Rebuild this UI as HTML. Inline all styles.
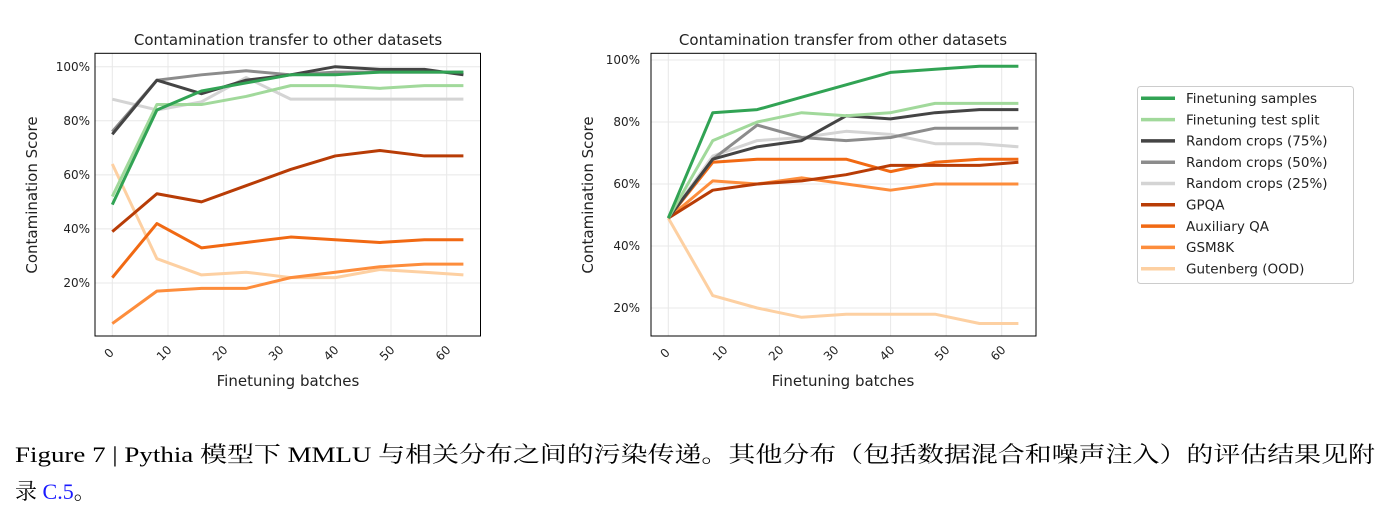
<!DOCTYPE html>
<html><head><meta charset="utf-8"><style>
body{margin:0;background:#fff;}
svg{display:block;font-family:"DejaVu Sans","Liberation Sans",sans-serif;}
.g{stroke:#e8e8e8;stroke-width:1;}
.s{fill:none;stroke-width:3;vector-effect:non-scaling-stroke;stroke-linejoin:round;}
.t{font-size:12px;fill:#222;}
</style></head><body>
<svg width="1390" height="520" viewBox="0 0 1390 520">
<!-- LEFT -->
<g>
<g class="g">
<line x1="112.3" y1="53" x2="112.3" y2="336"/><line x1="168" y1="53" x2="168" y2="336"/><line x1="223.8" y1="53" x2="223.8" y2="336"/><line x1="279.5" y1="53" x2="279.5" y2="336"/><line x1="335.2" y1="53" x2="335.2" y2="336"/><line x1="391" y1="53" x2="391" y2="336"/><line x1="446.7" y1="53" x2="446.7" y2="336"/>
<line x1="95" y1="66.7" x2="480" y2="66.7"/><line x1="95" y1="120.8" x2="480" y2="120.8"/><line x1="95" y1="174.9" x2="480" y2="174.9"/><line x1="95" y1="228.9" x2="480" y2="228.9"/><line x1="95" y1="283" x2="480" y2="283"/>
</g>
<g transform="matrix(5.573 0 0 -2.704 112.3 337.1)">
<polyline class="s" stroke="#fdd0a2" points="0,64 8,29 16,23 24,24 32,22 40,22 48,25 56,24 63,23"/>
<polyline class="s" stroke="#fd8d3c" points="0,5 8,17 16,18 24,18 32,22 40,24 48,26 56,27 63,27"/>
<polyline class="s" stroke="#f16913" points="0,22 8,42 16,33 24,35 32,37 40,36 48,35 56,36 63,36"/>
<polyline class="s" stroke="#b83c06" points="0,39 8,53 16,50 24,56 32,62 40,67 48,69 56,67 63,67"/>
<polyline class="s" stroke="#d4d4d4" points="0,88 8,84 16,87 24,96 32,88 40,88 48,88 56,88 63,88"/>
<polyline class="s" stroke="#8c8c8c" points="0,76 8,95 16,97 24,98.5 32,97 40,98 48,98 56,98 63,98"/>
<polyline class="s" stroke="#444" points="0,75 8,95 16,90 24,95 32,97 40,100 48,99 56,99 63,97"/>
<polyline class="s" stroke="#a1d99b" points="0,52 8,86 16,86 24,89 32,93 40,93 48,92 56,93 63,93"/>
<polyline class="s" stroke="#31a354" points="0,49 8,84 16,91 24,94 32,97 40,97 48,98 56,98 63,98"/>
</g>
<rect x="95" y="53.3" width="385.5" height="282.7" fill="none" stroke="#000" stroke-width="1"/>
<g class="t" text-anchor="end">
<text x="90" y="71">100%</text><text x="90" y="125">80%</text><text x="90" y="179">60%</text><text x="90" y="233">40%</text><text x="90" y="287">20%</text>
</g>
<g class="t" text-anchor="middle">
<text transform="translate(112,356) rotate(-45)">0</text><text transform="translate(167,356) rotate(-45)">10</text><text transform="translate(223,356) rotate(-45)">20</text><text transform="translate(279,356) rotate(-45)">30</text><text transform="translate(334,356) rotate(-45)">40</text><text transform="translate(390,356) rotate(-45)">50</text><text transform="translate(446,356) rotate(-45)">60</text>
</g>
<text x="288" y="45" font-size="15" text-anchor="middle" fill="#222">Contamination transfer to other datasets</text>
<text x="288" y="386" font-size="15" text-anchor="middle" fill="#222">Finetuning batches</text>
<text transform="translate(37,195) rotate(-90)" font-size="15" text-anchor="middle" fill="#222">Contamination Score</text>
</g>
<!-- RIGHT -->
<g>
<g class="g">
<line x1="668.3" y1="53" x2="668.3" y2="336"/><line x1="723.9" y1="53" x2="723.9" y2="336"/><line x1="779.4" y1="53" x2="779.4" y2="336"/><line x1="835" y1="53" x2="835" y2="336"/><line x1="890.6" y1="53" x2="890.6" y2="336"/><line x1="946.2" y1="53" x2="946.2" y2="336"/><line x1="1001.7" y1="53" x2="1001.7" y2="336"/>
<line x1="651" y1="60" x2="1036" y2="60"/><line x1="651" y1="122" x2="1036" y2="122"/><line x1="651" y1="184" x2="1036" y2="184"/><line x1="651" y1="246" x2="1036" y2="246"/><line x1="651" y1="308" x2="1036" y2="308"/>
</g>
<g transform="matrix(5.557 0 0 -3.1 668.3 370)">
<polyline class="s" stroke="#fdd0a2" points="0,49 8,24 16,20 24,17 32,18 40,18 48,18 56,15 63,15"/>
<polyline class="s" stroke="#fd8d3c" points="0,49 8,61 16,60 24,62 32,60 40,58 48,60 56,60 63,60"/>
<polyline class="s" stroke="#f16913" points="0,49 8,67 16,68 24,68 32,68 40,64 48,67 56,68 63,68"/>
<polyline class="s" stroke="#b83c06" points="0,49 8,58 16,60 24,61 32,63 40,66 48,66 56,66 63,67"/>
<polyline class="s" stroke="#d4d4d4" points="0,49 8,69 16,74 24,75 32,77 40,76 48,73 56,73 63,72"/>
<polyline class="s" stroke="#8c8c8c" points="0,49 8,68 16,79 24,75 32,74 40,75 48,78 56,78 63,78"/>
<polyline class="s" stroke="#444" points="0,49 8,68 16,72 24,74 32,82 40,81 48,83 56,84 63,84"/>
<polyline class="s" stroke="#a1d99b" points="0,49 8,74 16,80 24,83 32,82 40,83 48,86 56,86 63,86"/>
<polyline class="s" stroke="#31a354" points="0,49 8,83 16,84 24,88 32,92 40,96 48,97 56,98 63,98"/>
</g>
<rect x="651" y="53.3" width="385" height="282.7" fill="none" stroke="#000" stroke-width="1"/>
<g class="t" text-anchor="end">
<text x="640" y="64">100%</text><text x="640" y="126">80%</text><text x="640" y="188">60%</text><text x="640" y="250">40%</text><text x="640" y="312">20%</text>
</g>
<g class="t" text-anchor="middle">
<text transform="translate(668,356) rotate(-45)">0</text><text transform="translate(723,356) rotate(-45)">10</text><text transform="translate(779,356) rotate(-45)">20</text><text transform="translate(834,356) rotate(-45)">30</text><text transform="translate(890,356) rotate(-45)">40</text><text transform="translate(945,356) rotate(-45)">50</text><text transform="translate(1001,356) rotate(-45)">60</text>
</g>
<text x="843" y="45" font-size="15" text-anchor="middle" fill="#222">Contamination transfer from other datasets</text>
<text x="843" y="386" font-size="15" text-anchor="middle" fill="#222">Finetuning batches</text>
<text transform="translate(593,195) rotate(-90)" font-size="15" text-anchor="middle" fill="#222">Contamination Score</text>
</g>
<!-- LEGEND -->
<rect x="1137.5" y="86.5" width="216" height="197" rx="3" fill="#fff" stroke="#ccc"/>
<g stroke-width="3.5">
<line x1="1141" y1="98.3" x2="1175" y2="98.3" stroke="#31a354"/>
<line x1="1141" y1="119.6" x2="1175" y2="119.6" stroke="#a1d99b"/>
<line x1="1141" y1="140.9" x2="1175" y2="140.9" stroke="#444"/>
<line x1="1141" y1="162.2" x2="1175" y2="162.2" stroke="#8c8c8c"/>
<line x1="1141" y1="183.5" x2="1175" y2="183.5" stroke="#d4d4d4"/>
<line x1="1141" y1="204.8" x2="1175" y2="204.8" stroke="#b83c06"/>
<line x1="1141" y1="226.1" x2="1175" y2="226.1" stroke="#f16913"/>
<line x1="1141" y1="247.4" x2="1175" y2="247.4" stroke="#fd8d3c"/>
<line x1="1141" y1="268.7" x2="1175" y2="268.7" stroke="#fdd0a2"/>
</g>
<g font-size="13.5" fill="#222">
<text x="1186" y="103">Finetuning samples</text>
<text x="1186" y="124.3">Finetuning test split</text>
<text x="1186" y="145.6">Random crops (75%)</text>
<text x="1186" y="166.9">Random crops (50%)</text>
<text x="1186" y="188.2">Random crops (25%)</text>
<text x="1186" y="209.5">GPQA</text>
<text x="1186" y="230.8">Auxiliary QA</text>
<text x="1186" y="252.1">GSM8K</text>
<text x="1186" y="273.4">Gutenberg (OOD)</text>
</g>
<!-- CAPTION -->
<g font-family="'Liberation Serif','Noto Serif CJK SC',serif" font-size="22" fill="#000">
<text x="15" y="462" textLength="1360" lengthAdjust="spacingAndGlyphs">Figure 7 | Pythia 模型下 MMLU 与相关分布之间的污染传递。其他分布（包括数据混合和噪声注入）的评估结果见附</text>
<text x="15" y="499">录 <tspan fill="#1a1aff">C.5</tspan>。</text>
</g>
</svg>
</body></html>
